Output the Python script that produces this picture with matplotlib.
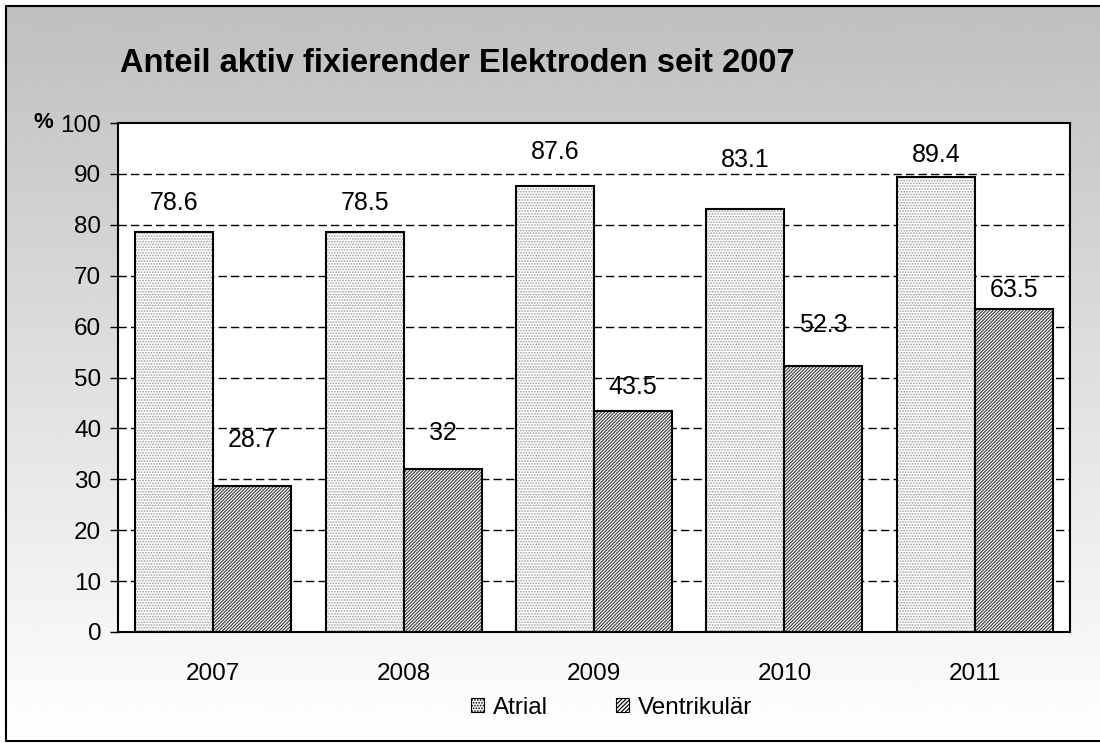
import matplotlib
import numpy as np

matplotlib.use("Agg")
import matplotlib.pyplot as plt
from matplotlib.patches import Rectangle

plt.rcParams["font.family"] = ["Liberation Sans", "DejaVu Sans"]
plt.rcParams["hatch.linewidth"] = 0.85

years = ["2007", "2008", "2009", "2010", "2011"]
atrial = [78.6, 78.5, 87.6, 83.1, 89.4]
ventrikular = [28.7, 32, 43.5, 52.3, 63.5]
atrial_labels = ["78.6", "78.5", "87.6", "83.1", "89.4"]
ventrikular_labels = ["28.7", "32", "43.5", "52.3", "63.5"]
yticks = [0, 10, 20, 30, 40, 50, 60, 70, 80, 90, 100]

# label offsets above the bar tops (pixels), as placed in the original
atrial_dy = [29, 29, 34, 49, 22]
ventr_dy = [46, 36, 24, 41, 19]

W, H = 1100, 743
fig = plt.figure(figsize=(W / 100, H / 100), dpi=100)

# gradient background with border
bg = fig.add_axes([0, 0, 1, 1], zorder=0)
bg.set_xlim(0, W)
bg.set_ylim(H, 0)
bg.axis("off")
grad = np.linspace(0.75, 1.0, 256).reshape(-1, 1)
bg.imshow(grad, cmap="gray", vmin=0, vmax=1, extent=[6, W, 741, 6],
          aspect="auto", interpolation="bilinear")
bg.plot([W, 6, 6, W], [6, 6, 741, 741], color="black", lw=1.5)

ax = fig.add_axes([118 / W, 1 - 632 / H, (1070 - 118) / W, (632 - 123) / H], zorder=1)
ax.set_facecolor("white")

x = np.arange(len(years))
bw = 0.41
b1 = ax.bar(x - bw / 2, atrial, bw, facecolor="white", edgecolor="black",
            hatch="......", linewidth=1.5, zorder=3)
for p in b1:
    p._hatch_color = (0.62, 0.62, 0.62, 1.0)
b2 = ax.bar(x + bw / 2, ventrikular, bw, facecolor="white", edgecolor="black",
            hatch="//////////", linewidth=1.5, zorder=3)
for p in b2:
    p._hatch_color = (0.25, 0.25, 0.25, 1.0)

for i in range(len(years)):
    ax.annotate(atrial_labels[i], (x[i] - bw / 2, atrial[i]),
                xytext=(0, atrial_dy[i] * 0.72), textcoords="offset points",
                ha="center", va="center", fontsize=18, zorder=5)
    ax.annotate(ventrikular_labels[i], (x[i] + bw / 2, ventrikular[i]),
                xytext=(0, ventr_dy[i] * 0.72), textcoords="offset points",
                ha="center", va="center", fontsize=18, zorder=5)

ax.set_xlim(-0.5, len(years) - 0.5)
ax.set_ylim(0, 100)
ax.set_yticks(yticks)
ax.set_yticklabels([str(t) for t in yticks], fontsize=17.5)
ax.set_xticks(x)
ax.set_xticklabels(years, fontsize=17.5)
ax.tick_params(axis="x", length=0, pad=22)
ax.tick_params(axis="y", direction="out", length=6, width=1, pad=6)
for t in yticks[1:-1]:
    ax.axhline(t, color="black", lw=1, ls=(0, (6, 3)), zorder=1)
for s in ax.spines.values():
    s.set_linewidth(1.5)

fig.text(120 / W, 1 - 63 / H, "Anteil aktiv fixierender Elektroden seit 2007",
         fontsize=23.5, fontweight="bold", va="center", ha="left")
fig.text(33 / W, 1 - 122 / H, "%", fontsize=16, fontweight="bold",
         va="center", ha="left")

h1 = Rectangle((0, 0), 1, 1, facecolor="white", edgecolor="black", hatch="......", lw=0.8)
h2 = Rectangle((0, 0), 1, 1, facecolor="white", edgecolor="black", hatch="////////", lw=0.8)
fig.legend([h1, h2], ["Atrial", "Ventrikulär"], loc="center",
           bbox_to_anchor=(612 / W, 1 - 708 / H), ncol=2, frameon=False,
           fontsize=17.5, handlelength=0.5, handleheight=0.5, handletextpad=0.4,
           columnspacing=2.8)

fig.savefig("out.png", dpi=100)
